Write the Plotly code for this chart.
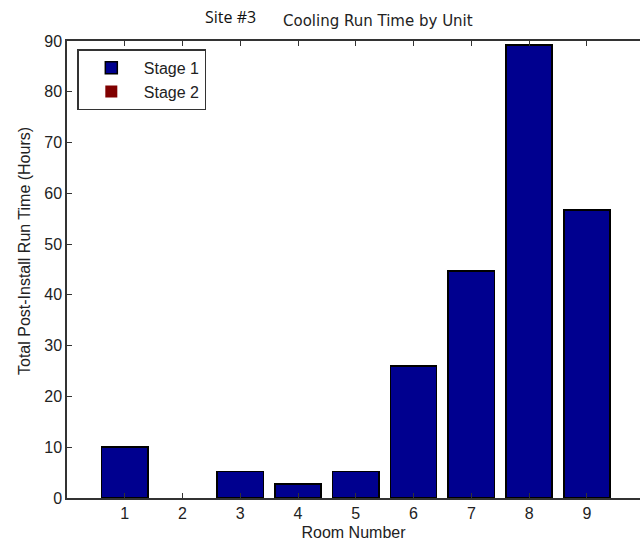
import plotly.graph_objects as go

rooms = [1, 2, 3, 4, 5, 6, 7, 8, 9]
stage1 = [10.0, 0.0, 5.2, 2.8, 5.2, 26.0, 44.7, 89.2, 56.7]
stage2 = [0, 0, 0, 0, 0, 0, 0, 0, 0]
y_ticks = [0, 10, 20, 30, 40, 50, 60, 70, 80, 90]

def outline(vals):
    return [1.5 if v > 0 else 0 for v in vals]

fig = go.Figure()
fig.add_trace(go.Bar(x=rooms, y=stage1, name="Stage 1", width=0.8,
                     marker=dict(color="#00008F", line=dict(color="black", width=outline(stage1)))))
fig.add_trace(go.Bar(x=rooms, y=stage2, name="Stage 2", width=0.8,
                     marker=dict(color="#800000", line=dict(color="black", width=outline(stage2)))))

FONT = "Liberation Sans, Arial, sans-serif"
axis_font = dict(family=FONT, size=16, color="#222")
L, R, T, B = 67, 0, 41, 50
fig.update_layout(
    barmode="stack",
    width=640, height=548,
    margin=dict(l=L, r=R, t=T, b=B),
    paper_bgcolor="white", plot_bgcolor="white",
    showlegend=True,
    legend=dict(x=0.018, y=0.982, xanchor="left", yanchor="top",
                bgcolor="white", bordercolor="#333", borderwidth=1.5,
                font=dict(family=FONT, size=16, color="#222"),
                itemwidth=55, tracegroupgap=0, traceorder="normal"),
    xaxis=dict(range=[0, 9.92], tickvals=rooms, ticktext=[str(r) for r in rooms],
               ticks="inside", ticklen=5, tickcolor="#333", showline=True, linecolor="#333",
               linewidth=1.5, mirror="ticks", showgrid=False, zeroline=False,
               tickfont=axis_font, ticklabelstandoff=0,
               title=dict(text="Room Number", font=dict(family=FONT, size=16, color="#222"), standoff=6)),
    yaxis=dict(range=[0, 90], tickvals=y_ticks, ticks="inside", ticklen=5, tickcolor="#333",
               showline=True, linecolor="#333", linewidth=1.5, mirror=False,
               showgrid=False, zeroline=False, tickfont=axis_font),
    annotations=[
        dict(text="Site #3", x=230, y=17, showarrow=False,
             font=dict(family="Open Sans, sans-serif", size=16, color="#111")),
        dict(text="Cooling Run Time by Unit", x=378, y=21, showarrow=False,
             font=dict(family="DejaVu Sans, sans-serif", size=15, color="#222")),
        dict(text="Total Post-Install Run Time (Hours)", x=25, y=251, showarrow=False,
             textangle=-90, font=dict(family=FONT, size=16, color="#222")),
    ],
)
plot_w = 640 - L - R
plot_h = 548 - T - B
for a in fig.layout.annotations:
    px, py = a.x, a.y
    a.xref = "paper"
    a.yref = "paper"
    a.xanchor = "center"
    a.yanchor = "middle"
    a.x = (px - L) / plot_w
    a.y = (548 - B - py) / plot_h

fig.write_html("out.html")
